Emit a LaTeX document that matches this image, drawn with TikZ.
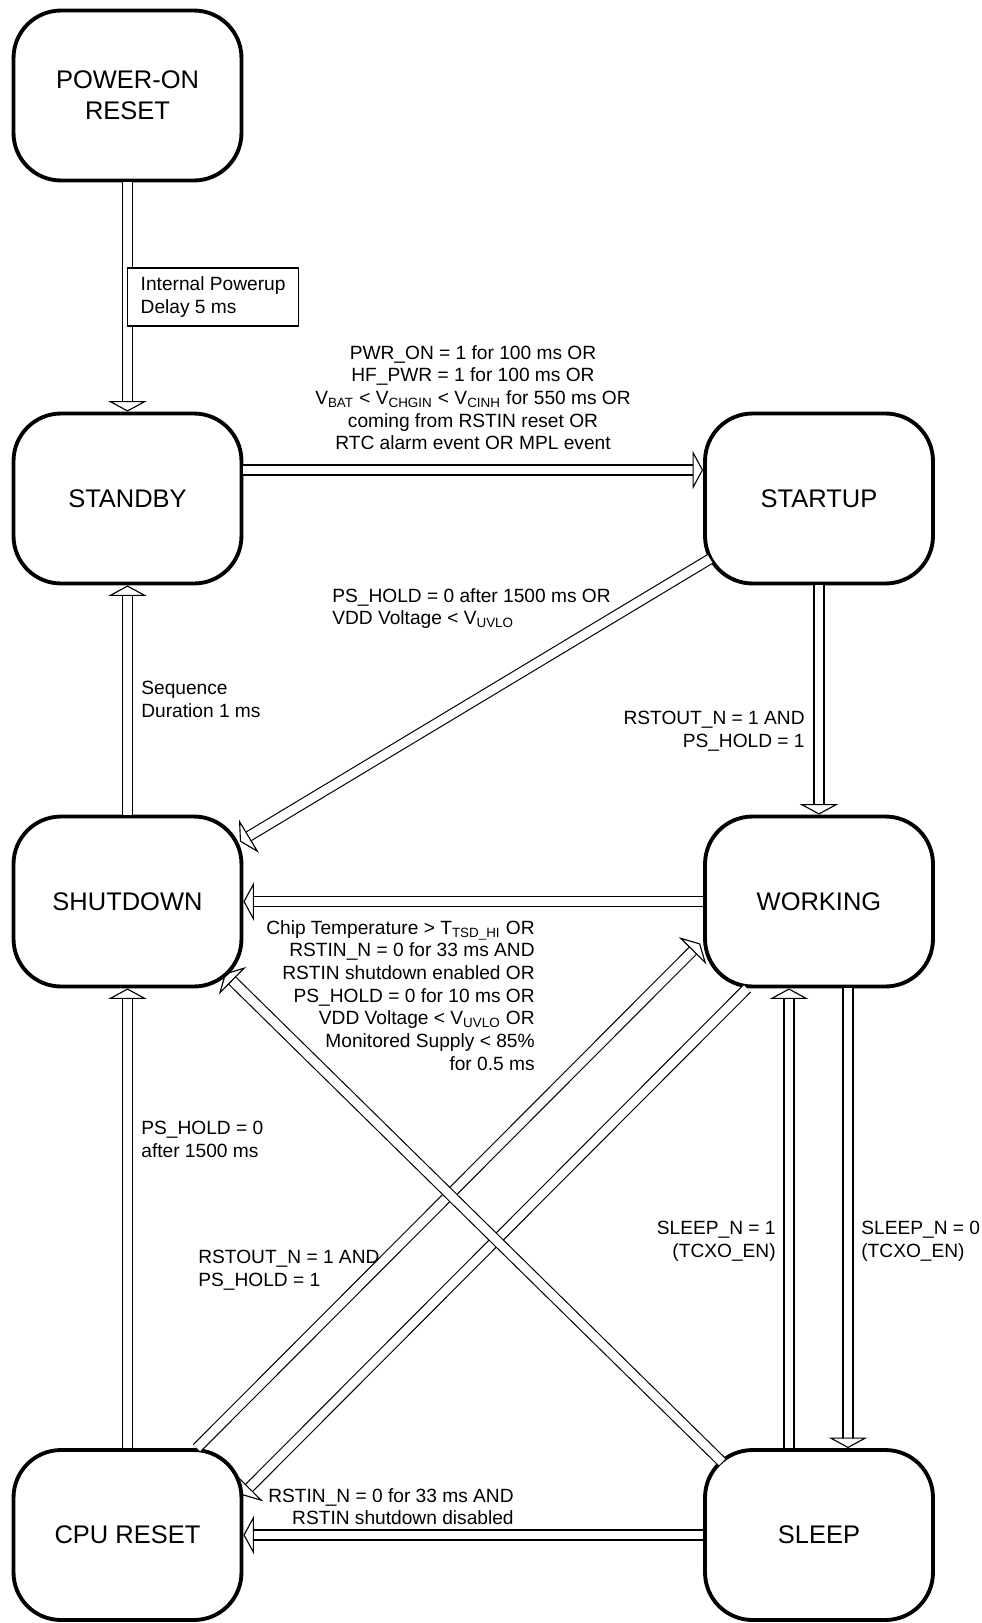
\documentclass[tikz,border=0pt]{standalone}
\usepackage{fontspec}
\setmainfont{Liberation Sans}
\usetikzlibrary{arrows.meta}
\begin{document}
\begin{tikzpicture}[x=0.02cm,y=-0.02cm,
	state/.style={draw,line width=2.2pt,rounded corners=0.95cm,minimum width=4.56cm,minimum height=3.4cm,align=center,font=\fontsize{14.5}{17.5}\selectfont},
	trans/.style={double,double distance=5pt,line width=0.65pt,-{Triangle[open,line width=0.65pt,length=6pt,width=22pt]}},
	lbl/.style={inner sep=0pt,font=\fontsize{10.9}{12.9}\selectfont},
	lblbox/.style={lbl,draw,line width=0.6pt,fill=white,inner xsep=7.5pt,minimum height=1.16cm,align=left}]
	\useasboundingbox (0,0) rectangle (982,1623);
	\node[state] (por) at (127.5,95.5) {POWER-ON\\RESET};
	\node[state] (stby) at (127.5,498.5) {STANDBY};
	\node[state] (strt) at (819,498.5) {STARTUP};
	\node[state] (shut) at (127.5,901.5) {SHUTDOWN};
	\node[state] (work) at (819,901.5) {WORKING};
	\node[state] (cpu) at (127.5,1535) {CPU RESET};
	\node[state] (slp) at (819,1535) {SLEEP};
	\draw[trans] (por.south) -- (stby.north);
	\draw[trans] ([shift={(0,-28.5)}]stby.east) -- ([shift={(0,-28.5)}]strt.west);
	\draw[trans] ([shift={(7,-26.5)}]strt.south west) -- ([shift={(-3.5,27)}]shut.north east);
	\draw[trans] (strt.south) -- (work.north);
	\draw[trans] (shut.north) -- (stby.south);
	\draw[trans] (work.west) -- (shut.east);
	\draw[trans] (cpu.north) -- (shut.south);
	\draw[trans] ([shift={(-46.5,0)}]cpu.north east) -- ([shift={(-3,-45)}]work.south west);
	\draw[trans] ([shift={(44,0)}]work.south west) -- ([shift={(-1.5,47)}]cpu.north east);
	\draw[trans] ([shift={(19,14)}]slp.north west) -- ([shift={(-18.5,-15)}]shut.south east);
	\draw[trans] ([shift={(29,0)}]work.south) -- ([shift={(29,0)}]slp.north);
	\draw[trans] ([shift={(-30,0)}]slp.north) -- ([shift={(-30,0)}]work.south);
	\draw[trans] (slp.west) -- (cpu.east);
	\node[lblbox,anchor=west] (dly) at (127,297) {Internal Powerup\\Delay 5 ms};
	\node[lbl,anchor=north,align=center] (onc) at (473,345) {PWR\_ON = 1 for 100 ms OR\\HF\_PWR = 1 for 100 ms OR\\V\textsubscript{BAT} < V\textsubscript{CHGIN} < V\textsubscript{CINH} for 550 ms OR\\coming from RSTIN reset OR\\RTC alarm event OR MPL event};
	\node[lbl,anchor=north west,align=left] (offc) at (332,588) {PS\_HOLD = 0 after 1500 ms OR\\VDD Voltage < V\textsubscript{UVLO}};
	\node[lbl,anchor=north east,align=right] (runc) at (805,711) {RSTOUT\_N = 1 AND\\PS\_HOLD = 1};
	\node[lbl,anchor=north west,align=left] (seqc) at (141,681) {Sequence\\Duration 1 ms};
	\node[lbl,anchor=north east,align=right] (faultc) at (535,920) {Chip Temperature > T\textsubscript{TSD\_HI} OR\\RSTIN\_N = 0 for 33 ms AND\\RSTIN shutdown enabled OR\\PS\_HOLD = 0 for 10 ms OR\\VDD Voltage < V\textsubscript{UVLO} OR\\Monitored Supply < 85\%\\for 0.5 ms};
	\node[lbl,anchor=north west,align=left] (holdc) at (141,1121) {PS\_HOLD = 0\\after 1500 ms};
	\node[lbl,anchor=north west,align=left] (rstc) at (198,1250) {RSTOUT\_N = 1 AND\\PS\_HOLD = 1};
	\node[lbl,anchor=north east,align=right] (wakec) at (776,1221) {SLEEP\_N = 1\\(TCXO\_EN)};
	\node[lbl,anchor=north west,align=left] (sleepc) at (861,1221) {SLEEP\_N = 0\\(TCXO\_EN)};
	\node[lbl,anchor=north east,align=right] (cpuc) at (514,1488) {RSTIN\_N = 0 for 33 ms AND\\RSTIN shutdown disabled};
\end{tikzpicture}
\end{document}
